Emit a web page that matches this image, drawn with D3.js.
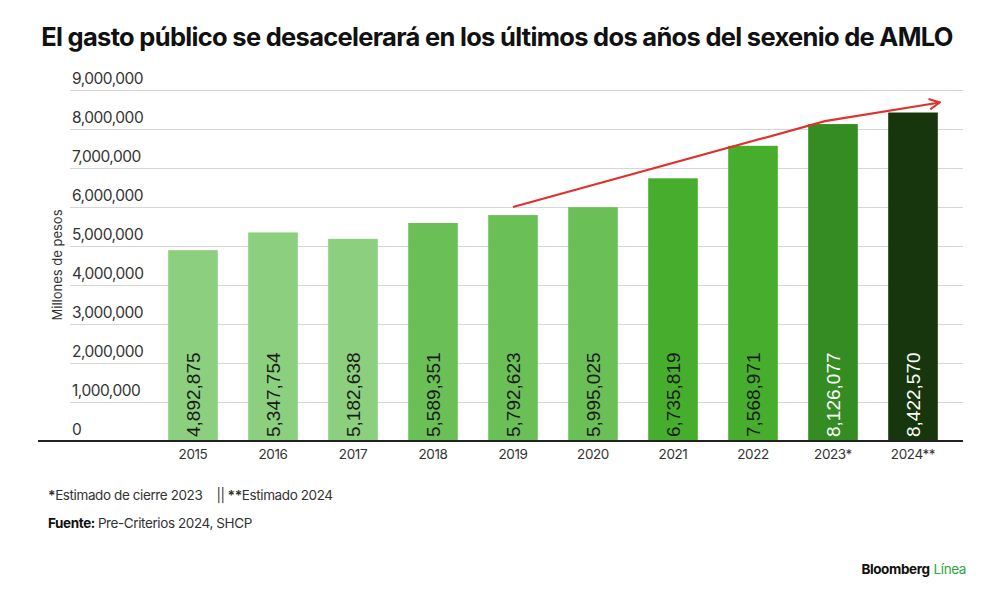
<!DOCTYPE html>
<html>
<head>
<meta charset="utf-8">
<title>Gasto público</title>
<script src="https://cdnjs.cloudflare.com/ajax/libs/d3/7.8.5/d3.min.js"></script>
<style>
  body { margin: 0; background: #fff; font-family: "Inter", "Liberation Sans", sans-serif; }
  .grid line { stroke: #d6d6d6; }
  .grid path { display: none; }
</style>
</head>
<body>
<div id="chart"></div>
<script>
var datos = [
  { anio: "2015", valor: 4892875, color: "#8ccf7e" },
  { anio: "2016", valor: 5347754, color: "#8ccf7e" },
  { anio: "2017", valor: 5182638, color: "#8ccf7e" },
  { anio: "2018", valor: 5589351, color: "#6bbf57" },
  { anio: "2019", valor: 5792623, color: "#6bbf57" },
  { anio: "2020", valor: 5995025, color: "#6bbf57" },
  { anio: "2021", valor: 6735819, color: "#46ae2c" },
  { anio: "2022", valor: 7568971, color: "#46ae2c" },
  { anio: "2023*", valor: 8126077, color: "#348c23" },
  { anio: "2024**", valor: 8422570, color: "#17360d" }
];

var W = 1000, H = 602;
var svg = d3.select("#chart").append("svg").attr("width", W).attr("height", H);

var x = d3.scaleBand().domain(datos.map(function (d) { return d.anio; }))
  .range([153, 953]).paddingInner(0.38).paddingOuter(0.19);
var y = d3.scaleLinear().domain([0, 9000000]).range([441, 90]);

svg.append("text").attr("x", 497).attr("y", 46).attr("text-anchor", "middle")
  .attr("font-size", 25.5).attr("font-weight", 700).attr("letter-spacing", -0.7).attr("fill", "#111")
  .text("El gasto público se desacelerará en los últimos dos años del sexenio de AMLO");

// rejilla
svg.append("g").attr("class", "grid").attr("transform", "translate(70,0)")
  .call(d3.axisRight(y).tickValues(d3.range(1000000, 9000001, 1000000)).tickSize(893).tickFormat(""));

svg.selectAll(".ylab").data(d3.range(0, 9000001, 1000000)).enter().append("text")
  .attr("x", 72).attr("y", function (d) { return y(d) - 6; })
  .attr("font-size", 15.5).attr("letter-spacing", -0.5).attr("fill", "#333")
  .text(function (d) { return d3.format(",")(d); });

svg.append("text").attr("transform", "translate(62,265) rotate(-90)").attr("text-anchor", "middle")
  .attr("font-size", 13).attr("fill", "#333").text("Millones de pesos");

svg.selectAll(".bar").data(datos).enter().append("rect")
  .attr("x", function (d) { return x(d.anio); }).attr("width", x.bandwidth())
  .attr("y", function (d) { return y(d.valor); })
  .attr("height", function (d) { return y(0) - y(d.valor); })
  .attr("fill", function (d) { return d.color; });

svg.selectAll(".val").data(datos).enter().append("text")
  .attr("transform", function (d) { return "translate(" + (x(d.anio) + x.bandwidth() / 2 + 7) + ",437) rotate(-90)"; })
  .attr("font-size", 19).attr("font-family", "Liberation Sans, Arial, sans-serif")
  .attr("fill", function (d, i) { return i >= 8 ? "#fff" : "#1a1a1a"; })
  .text(function (d) { return d3.format(",")(d.valor); });

svg.append("line").attr("x1", 38).attr("x2", 963).attr("y1", 441).attr("y2", 441)
  .attr("stroke", "#222").attr("stroke-width", 2);

svg.selectAll(".xlab").data(datos).enter().append("text")
  .attr("x", function (d) { return x(d.anio) + x.bandwidth() / 2; }).attr("y", 459)
  .attr("text-anchor", "middle").attr("font-size", 13.5).attr("letter-spacing", -0.4).attr("fill", "#333")
  .text(function (d) { return d.anio; });

// flecha de tendencia
var flecha = [
  { x: x("2019") + x.bandwidth() / 2, v: 6000000 },
  { x: x("2023*") + x.bandwidth() / 2 - 8, v: 8200000 },
  { x: x("2024**") + x.bandwidth() + 2, v: 8680000 }
];
svg.append("defs").append("marker").attr("id", "punta").attr("viewBox", "0 0 10 10")
  .attr("refX", 9).attr("refY", 5).attr("markerWidth", 6).attr("markerHeight", 6).attr("orient", "auto")
  .append("path").attr("d", "M1,1 L9,5 L1,9").attr("fill", "none").attr("stroke", "#e0312e").attr("stroke-width", 1.5);
svg.append("path").datum(flecha)
  .attr("d", d3.line().x(function (d) { return d.x; }).y(function (d) { return y(d.v); }))
  .attr("fill", "none").attr("stroke", "#e0312e").attr("stroke-width", 2.2).attr("marker-end", "url(#punta)");

var nota = svg.append("text").attr("x", 48).attr("y", 500).attr("font-size", 13.5).attr("letter-spacing", -0.4).attr("fill", "#333");
nota.append("tspan").attr("font-weight", 700).text("*");
nota.append("tspan").text("Estimado de cierre 2023");
nota.append("tspan").attr("dx", 14).text("||");
nota.append("tspan").attr("dx", 3).attr("font-weight", 700).text("**");
nota.append("tspan").text("Estimado 2024");

var fuente = svg.append("text").attr("x", 48).attr("y", 528).attr("font-size", 13.5).attr("letter-spacing", -0.4).attr("fill", "#333");
fuente.append("tspan").attr("font-weight", 700).attr("fill", "#111").text("Fuente:");
fuente.append("tspan").attr("dx", 3).text("Pre-Criterios 2024, SHCP");

var marca = svg.append("text").attr("x", 966).attr("y", 574).attr("text-anchor", "end")
  .attr("font-size", 13.5).attr("font-weight", 700).attr("letter-spacing", -0.4);
marca.append("tspan").attr("fill", "#111").text("Bloomberg");
marca.append("tspan").attr("dx", 4).attr("fill", "#2aa83a").attr("font-weight", 400).text("Línea");
</script>
</body>
</html>
